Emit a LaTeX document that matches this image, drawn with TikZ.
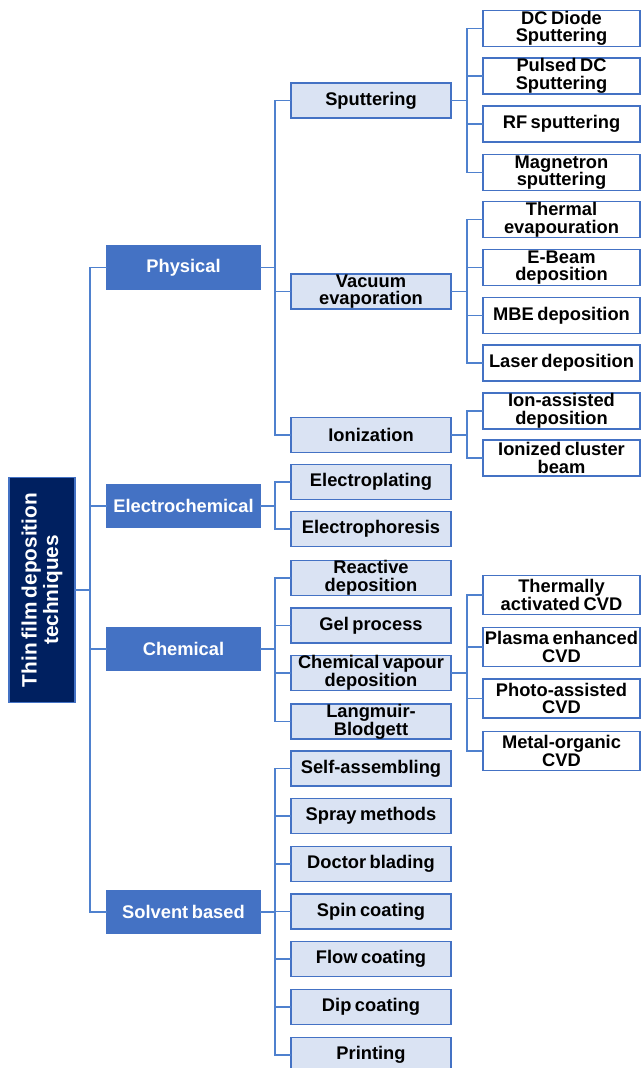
\documentclass[tikz,border=0pt]{standalone}
\usepackage{fontspec}
\setmainfont{Liberation Sans}[WordSpace=0.7]
\definecolor{rootfill}{RGB}{0,32,96}
\definecolor{accent}{RGB}{68,114,196}
\definecolor{lightfill}{RGB}{218,227,243}
\definecolor{lineblue}{RGB}{79,129,206}
\tikzset{
  base/.style={draw=accent, line width=1.9pt, inner sep=0pt, align=center,
    font=\bfseries\fontsize{18.3}{17.6}\selectfont},
  rootbox/.style={base, fill=rootfill, text=white, rotate=90,
    minimum width=225, minimum height=66, font=\bfseries\fontsize{20.8}{21.5}\selectfont},
  lvone/.style={base, fill=accent, text=white, minimum width=153, minimum height=43},
  lvtwo/.style={base, fill=lightfill, text=black, minimum width=160, minimum height=35},
  lvthree/.style={base, fill=white, text=black, minimum width=157, minimum height=36},
  tall/.style={minimum height=39},
  conn/.style={draw=lineblue, line width=1.9pt, line cap=rect},
}
\newcommand\hookup[3]{%
  \draw[conn] (#1.east) -- (#1.east -| #2);
  \foreach \c in {#3} { \draw[conn] (#2 |- \c.west) -- (\c.west); }
}
\begin{document}
\begin{tikzpicture}[x=1pt,y=-1pt]
\useasboundingbox (0,0) rectangle (641,1068);
\clip (0,0) rectangle (641,1068);
% trunk coordinates
\coordinate (t1) at (90,0);
\coordinate (t2) at (275,0);
\coordinate (t3) at (467,0);
% root
\node[rootbox] (root) at (42,590) {Thin film deposition\\techniques};
% level 1
\node[lvone] (phys) at (183.5,267.5) {Physical};
\node[lvone] (elch) at (183.5,506) {Electrochemical};
\node[lvone] (chem) at (183.5,649) {Chemical};
\node[lvone] (solv) at (183.5,912) {Solvent based};
% level 2
\node[lvtwo] (sput) at (371,100.5) {Sputtering};
\node[lvtwo] (vacu) at (371,291.5) {Vacuum\\evaporation};
\node[lvtwo] (ioni) at (371,435) {Ionization};
\node[lvtwo] (eplt) at (371,482) {Electroplating};
\node[lvtwo] (ephr) at (371,529) {Electrophoresis};
\node[lvtwo] (reac) at (371,578) {Reactive\\deposition};
\node[lvtwo] (gelp) at (371,625.5) {Gel process};
\node[lvtwo] (cvdp) at (371,673) {Chemical vapour\\deposition};
\node[lvtwo] (lang) at (371,721.5) {Langmuir-\\Blodgett};
\node[lvtwo] (self) at (371,768.5) {Self-assembling};
\node[lvtwo] (spra) at (371,816) {Spray methods};
\node[lvtwo] (doct) at (371,864) {Doctor blading};
\node[lvtwo] (spin) at (371,911.5) {Spin coating};
\node[lvtwo] (flow) at (371,959) {Flow coating};
\node[lvtwo] (dipc) at (371,1007) {Dip coating};
\node[lvtwo] (prin) at (371,1055) {Printing};
% level 3
\node[lvthree] (dcdi) at (561.5,28.5) {DC Diode\\Sputtering};
\node[lvthree] (pdcs) at (561.5,76) {Pulsed DC\\Sputtering};
\node[lvthree] (rfsp) at (561.5,124) {RF sputtering};
\node[lvthree] (magn) at (561.5,172.5) {Magnetron\\sputtering};
\node[lvthree] (ther) at (561.5,219.5) {Thermal\\evapouration};
\node[lvthree] (ebea) at (561.5,267.5) {E-Beam\\deposition};
\node[lvthree] (mbed) at (561.5,315.5) {MBE deposition};
\node[lvthree] (lase) at (561.5,363) {Laser deposition};
\node[lvthree] (iona) at (561.5,411) {Ion-assisted\\deposition};
\node[lvthree] (ionc) at (561.5,458) {Ionized cluster\\beam};
\node[lvthree,tall] (tcvd) at (561.5,595) {Thermally\\activated CVD};
\node[lvthree,tall] (pcvd) at (561.5,647) {Plasma enhanced\\CVD};
\node[lvthree,tall] (hcvd) at (561.5,698.5) {Photo-assisted\\CVD};
\node[lvthree,tall] (mcvd) at (561.5,751) {Metal-organic\\CVD};
% connectors: root
\draw[conn] (root.south) -- (root.south -| t1);
\draw[conn] (t1 |- phys.west) -- (t1 |- solv.west);
\foreach \c in {phys,elch,chem,solv} { \draw[conn] (t1 |- \c.west) -- (\c.west); }
% level 1 -> level 2
\hookup{phys}{t2}{sput,vacu,ioni}
\draw[conn] (t2 |- sput.west) -- (t2 |- ioni.west);
\hookup{elch}{t2}{eplt,ephr}
\draw[conn] (t2 |- eplt.west) -- (t2 |- ephr.west);
\hookup{chem}{t2}{reac,gelp,cvdp,lang}
\draw[conn] (t2 |- reac.west) -- (t2 |- lang.west);
\hookup{solv}{t2}{self,spra,doct,spin,flow,dipc,prin}
\draw[conn] (t2 |- self.west) -- (t2 |- prin.west);
% level 2 -> level 3
\hookup{sput}{t3}{dcdi,pdcs,rfsp,magn}
\draw[conn] (t3 |- dcdi.west) -- (t3 |- magn.west);
\hookup{vacu}{t3}{ther,ebea,mbed,lase}
\draw[conn] (t3 |- ther.west) -- (t3 |- lase.west);
\hookup{ioni}{t3}{iona,ionc}
\draw[conn] (t3 |- iona.west) -- (t3 |- ionc.west);
\hookup{cvdp}{t3}{tcvd,pcvd,hcvd,mcvd}
\draw[conn] (t3 |- tcvd.west) -- (t3 |- mcvd.west);
\end{tikzpicture}
\end{document}
